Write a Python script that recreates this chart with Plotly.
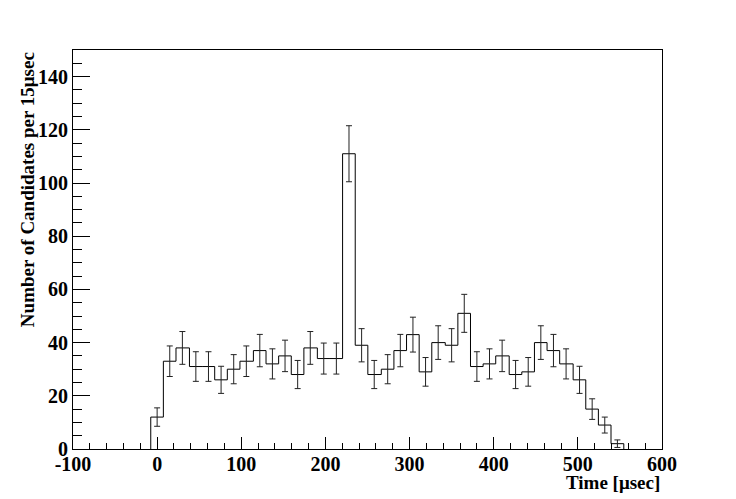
"""
Timing distribution of candidates, ROOT-style histogram with Poisson errors.
"""

import numpy as np
import plotly.graph_objects as go

# bin centres (bins look ~15.2 units wide on the axis)
bin_centers = [0, 15, 30, 46, 61, 76, 91, 106, 122, 137, 152, 167, 182,
               198, 213, 228, 243, 258, 274, 289, 304, 319, 334, 350, 365,
               380, 395, 410, 426, 441, 456, 471, 486, 502, 517, 532, 547]
bin_width = 15.2
counts = [12, 33, 38, 31, 31, 26, 30, 33, 37, 32, 35, 28, 38,
          34, 34, 111, 39, 28, 30, 37, 43, 29, 40, 39, 51,
          31, 32, 35, 28, 29, 40, 37, 32, 26, 15, 9, 2]

x_ticks = [-100, 0, 100, 200, 300, 400, 500, 600]
y_ticks = [0, 20, 40, 60, 80, 100, 120, 140]

FONT = "Liberation Serif"

# step outline of the histogram
left_edges = [c - bin_width / 2 for c in bin_centers]
right_edge = bin_centers[-1] + bin_width / 2
step_x = [left_edges[0]] + left_edges + [right_edge]
step_y = [0] + counts + [0]

fig = go.Figure()

fig.add_trace(go.Scatter(
    x=step_x,
    y=step_y,
    mode='lines',
    line=dict(color='black', width=1, shape='hv'),
    hoverinfo='skip',
    showlegend=False
))

# vertical Poisson error bars with small caps
fig.add_trace(go.Scatter(
    x=bin_centers,
    y=counts,
    mode='markers',
    marker=dict(size=1, color='black', opacity=0),
    error_y=dict(type='data', array=np.sqrt(counts), color='#222222',
                 thickness=1, width=3),
    showlegend=False
))

tick_font = dict(family=FONT, size=20, color='black', weight='bold')

# page body adds an 8px margin, so the figure is 8px smaller than the window
fig.update_layout(
    width=728,
    height=491,
    paper_bgcolor='white',
    plot_bgcolor='white',
    margin=dict(l=65, r=74, t=42, b=50),
    font=dict(family=FONT, color='black'),
    xaxis=dict(
        range=[-100, 600],
        tickvals=x_ticks,
        ticktext=[str(t) for t in x_ticks],
        ticks='inside',
        ticklen=12,
        tickwidth=1,
        tickcolor='black',
        minor=dict(ticks='inside', dtick=20, tick0=0, ticklen=6,
                   tickcolor='black'),
        showline=True,
        linecolor='black',
        linewidth=1,
        mirror=True,
        showgrid=False,
        zeroline=False,
        automargin=False,
        ticklabelstandoff=-3,
        tickfont=tick_font,
    ),
    yaxis=dict(
        range=[0, 150],
        tickvals=y_ticks,
        ticktext=[str(t) for t in y_ticks],
        ticks='inside',
        ticklen=17,
        tickwidth=1,
        tickcolor='black',
        minor=dict(ticks='inside', dtick=5, tick0=0, ticklen=9,
                   tickcolor='black'),
        showline=True,
        linecolor='black',
        linewidth=1,
        mirror=True,
        showgrid=False,
        zeroline=False,
        automargin=False,
        tickfont=tick_font,
    ),
)

# axis titles placed ROOT-style (right / top aligned)
fig.add_annotation(
    text='Time [μsec]',
    xref='paper', yref='paper',
    x=1.0, y=-0.083,
    xanchor='right', yanchor='middle',
    showarrow=False,
    font=dict(family=FONT, size=19, color='black', weight='bold')
)
fig.add_annotation(
    text='Number of Candidates per 15μsec',
    xref='paper', yref='paper',
    x=-0.077, y=1.0,
    xanchor='center', yanchor='top',
    textangle=-90,
    showarrow=False,
    font=dict(family=FONT, size=19, color='black', weight='bold')
)

fig.write_html("out.html")
